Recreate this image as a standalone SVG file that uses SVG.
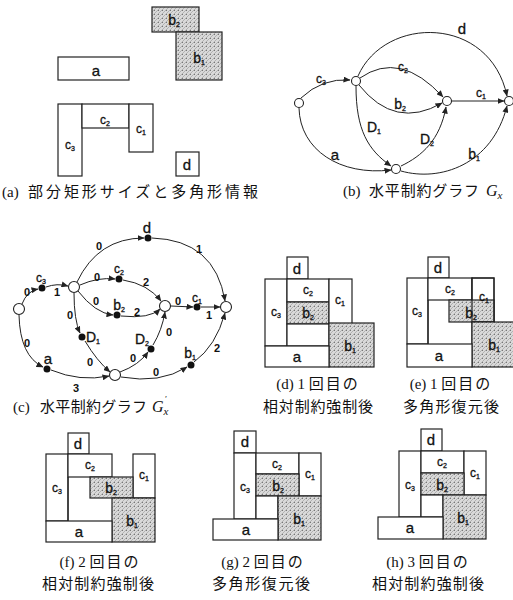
<svg xmlns="http://www.w3.org/2000/svg" width="513" height="600" viewBox="0 0 513 600">
<defs>
<pattern id="hatch" width="4" height="4" patternUnits="userSpaceOnUse">
<rect width="4" height="4" fill="#d9d9d9"/>
<path d="M0,4 L4,0 M-1,1 L1,-1 M3,5 L5,3" stroke="#959595" stroke-width="0.6"/>
<rect x="2" y="2" width="1" height="1" fill="#777"/>
</pattern>
<marker id="ar" markerWidth="7" markerHeight="6" refX="6.5" refY="3" orient="auto" markerUnits="userSpaceOnUse">
<path d="M0,0 L7,3 L0,6 z" fill="#222"/>
</marker>
<style>
.box{fill:#fff;stroke:#222;stroke-width:1.2}
.sh{fill:url(#hatch);stroke:#222;stroke-width:1.2}
.ln{fill:none;stroke:#222;stroke-width:1.2}
.l{font-family:"Liberation Sans",Arial,sans-serif;fill:#111;stroke:#111;stroke-width:0.3;text-anchor:middle}
.big{font-size:15px}
.mid{font-size:14px}
.sm{font-size:12px}
.sub{font-size:7px}
.num{font-family:"Liberation Sans",Arial,sans-serif;font-size:11px;font-weight:bold;fill:#111;text-anchor:middle}
.cap{font-family:"Liberation Serif","Noto Sans CJK JP",serif;font-size:15px;fill:#111}
.capm{font-family:"Liberation Serif","Noto Sans CJK JP",serif;font-size:15px;fill:#111;text-anchor:middle}
.it{font-family:"Liberation Serif",serif;font-style:italic;font-size:16px;fill:#111}
.edge{fill:none;stroke:#222;stroke-width:1;marker-end:url(#ar)}
.node{fill:#fff;stroke:#222;stroke-width:1.1}
.dot{fill:#111}
</style>
</defs>
<rect width="513" height="600" fill="#fff"/>

<!-- (a) -->
<g id="panel-a">
<g id="a-b2"><rect class="sh" x="152" y="7" width="47" height="25"/><text class="l mid" x="174" y="25">b<tspan class="sub" dy="2">2</tspan></text></g>
<g id="a-b1"><rect class="sh" x="176" y="32" width="46" height="48"/><text class="l mid" x="199" y="63">b<tspan class="sub" dy="2">1</tspan></text></g>
<g id="a-a"><rect class="box" x="58" y="57" width="71" height="23"/><text class="l big" x="96" y="76">a</text></g>
<g id="a-c3"><rect class="box" x="58" y="104" width="24" height="72"/><text class="l sm" x="70" y="149">c<tspan class="sub" dy="2">3</tspan></text></g>
<g id="a-c2"><rect class="box" x="82" y="104" width="47" height="24"/><text class="l sm" x="105" y="124">c<tspan class="sub" dy="2">2</tspan></text></g>
<g id="a-c1"><rect class="box" x="129" y="104" width="24" height="48"/><text class="l sm" x="141" y="133">c<tspan class="sub" dy="2">1</tspan></text></g>
<g id="a-d"><rect class="box" x="176" y="152" width="23" height="24"/><text class="l big" x="187" y="170">d</text></g>
<text class="cap" x="2" y="197">(a)</text>
<text class="cap" x="28" y="197" textLength="230" lengthAdjust="spacing">部分矩形サイズと多角形情報</text>
</g>

<!-- (b) graph -->
<g id="graph-b">
<g id="b-connectors">
<path class="edge" d="M301,98 Q322,78 350,80"/>
<path class="edge" d="M358,76 C385,15 490,15 507,96"/>
<path class="edge" d="M360,78 Q400,50 443,97"/>
<path class="edge" d="M359,85 Q395,130 442,103"/>
<path class="edge" d="M452,101 L504,101"/>
<path class="edge" d="M356,86 C356,130 368,150 391,166"/>
<path class="edge" d="M401,166 C422,156 440,140 446,107"/>
<path class="edge" d="M299,108 C300,150 340,176 391,170"/>
<path class="edge" d="M401,171 C440,182 492,165 507,106"/>
</g>
<g id="b-L"><circle class="node" cx="299" cy="103" r="4.5"/></g>
<g id="b-A"><circle class="node" cx="356" cy="81" r="4.5"/></g>
<g id="b-M"><circle class="node" cx="447" cy="101" r="4.5"/></g>
<g id="b-R"><circle class="node" cx="509" cy="101" r="4.5"/></g>
<g id="b-B"><circle class="node" cx="396" cy="169" r="4.5"/></g>
<g id="b-labels">
<text class="l sm" x="321" y="83">c<tspan class="sub" dy="2">3</tspan></text>
<text class="l big" x="462" y="34">d</text>
<text class="l sm" x="403" y="71">c<tspan class="sub" dy="2">2</tspan></text>
<text class="l mid" x="400" y="109">b<tspan class="sub" dy="2">2</tspan></text>
<text class="l sm" x="481" y="97">c<tspan class="sub" dy="2">1</tspan></text>
<text class="l mid" x="374" y="132">D<tspan class="sub" dy="2">1</tspan></text>
<text class="l mid" x="427" y="144">D<tspan class="sub" dy="2">2</tspan></text>
<text class="l big" x="335" y="160">a</text>
<text class="l mid" x="474" y="159">b<tspan class="sub" dy="2">1</tspan></text>
</g>
<text class="cap" x="343" y="196">(b)</text>
<text class="cap" x="369" y="196" textLength="110" lengthAdjust="spacing">水平制約グラフ</text>
<text class="it" x="486" y="196">G<tspan font-size="11" dy="3">x</tspan></text>
</g>

<!-- (c) graph -->
<g id="graph-c">
<g id="c-connectors">
<path class="edge" d="M22,304 Q27,291 38,289"/>
<path class="edge" d="M46,287 Q57,283 68,286"/>
<path class="edge" d="M77,282 Q98,238 144,238"/>
<path class="edge" d="M152,238 Q215,240 225,301"/>
<path class="edge" d="M80,285 Q98,277 115,279"/>
<path class="edge" d="M123,280 Q148,284 161,301"/>
<path class="edge" d="M78,291 Q95,313 113,315"/>
<path class="edge" d="M121,316 Q150,319 160,309"/>
<path class="edge" d="M171,306 L193,307"/>
<path class="edge" d="M201,307 L220,307"/>
<path class="edge" d="M74,293 Q74,320 80,333"/>
<path class="edge" d="M85,341 Q97,361 110,372"/>
<path class="edge" d="M19,315 Q20,356 43,367"/>
<path class="edge" d="M51,370 Q80,382 109,376"/>
<path class="edge" d="M120,372 Q139,365 148,352"/>
<path class="edge" d="M153,345 Q162,330 165,312"/>
<path class="edge" d="M121,377 Q160,384 187,367"/>
<path class="edge" d="M194,362 Q216,346 225,313"/>
</g>
<g id="c-L"><circle class="node" cx="19" cy="309" r="5.5"/></g>
<g id="c-A"><circle class="node" cx="74" cy="287" r="5.5"/></g>
<g id="c-M"><circle class="node" cx="165" cy="306" r="5.5"/></g>
<g id="c-R"><circle class="node" cx="226" cy="307" r="5.5"/></g>
<g id="c-B"><circle class="node" cx="115" cy="375" r="5.5"/></g>
<g id="c-c3"><circle class="dot" cx="42" cy="288" r="3.5"/><text class="l sm" x="41" y="282">c<tspan class="sub" dy="2">3</tspan></text></g>
<g id="c-d"><circle class="dot" cx="148" cy="238" r="3.5"/><text class="l big" x="147" y="233">d</text></g>
<g id="c-c2"><circle class="dot" cx="119" cy="279" r="3.5"/><text class="l sm" x="119" y="273">c<tspan class="sub" dy="2">2</tspan></text></g>
<g id="c-b2"><circle class="dot" cx="117" cy="315" r="3.5"/><text class="l mid" x="119" y="310">b<tspan class="sub" dy="2">2</tspan></text></g>
<g id="c-c1"><circle class="dot" cx="197" cy="307" r="3.5"/><text class="l sm" x="197" y="302">c<tspan class="sub" dy="2">1</tspan></text></g>
<g id="c-D1"><circle class="dot" cx="82" cy="337" r="3.5"/><text class="l mid" x="93" y="342">D<tspan class="sub" dy="2">1</tspan></text></g>
<g id="c-D2"><circle class="dot" cx="151" cy="349" r="3.5"/><text class="l mid" x="142" y="344">D<tspan class="sub" dy="2">2</tspan></text></g>
<g id="c-a"><circle class="dot" cx="47" cy="369" r="3.5"/><text class="l big" x="48" y="364">a</text></g>
<g id="c-b1"><circle class="dot" cx="191" cy="365" r="3.5"/><text class="l mid" x="190" y="358">b<tspan class="sub" dy="2">1</tspan></text></g>
<g id="c-weights">
<text class="num" x="27" y="296">0</text>
<text class="num" x="57" y="296">1</text>
<text class="num" x="99" y="250">0</text>
<text class="num" x="199" y="253">1</text>
<text class="num" x="97" y="281">0</text>
<text class="num" x="146" y="286">2</text>
<text class="num" x="96" y="305">0</text>
<text class="num" x="137" y="316">2</text>
<text class="num" x="178" y="305">0</text>
<text class="num" x="209" y="319">1</text>
<text class="num" x="70" y="319">0</text>
<text class="num" x="90" y="366">0</text>
<text class="num" x="27" y="347">0</text>
<text class="num" x="76" y="392">3</text>
<text class="num" x="133" y="362">0</text>
<text class="num" x="169" y="336">0</text>
<text class="num" x="156" y="376">0</text>
<text class="num" x="217" y="352">2</text>
</g>
<text class="cap" x="13" y="412">(c)</text>
<text class="cap" x="40" y="412" textLength="107" lengthAdjust="spacing">水平制約グラフ</text>
<text class="it" x="152" y="412">G<tspan font-size="9" dx="1" dy="-10">′</tspan><tspan font-size="11" dx="-3" dy="13">x</tspan></text>
</g>

<!-- (d) -->
<g id="panel-d">
<g id="d-d"><rect class="box" x="287" y="257" width="21" height="22"/><text class="l big" x="297" y="274">d</text></g>
<g id="d-c3"><rect class="box" x="265" y="279" width="22" height="67"/><text class="l sm" x="276" y="316">c<tspan class="sub" dy="2">3</tspan></text></g>
<g id="d-c2"><rect class="box" x="287" y="279" width="42" height="23"/><text class="l sm" x="308" y="294">c<tspan class="sub" dy="2">2</tspan></text></g>
<g id="d-b2"><rect class="sh" x="287" y="302" width="42" height="22"/><text class="l mid" x="308" y="318">b<tspan class="sub" dy="2">2</tspan></text></g>
<rect class="box" x="287" y="324" width="42" height="22"/>
<g id="d-c1"><rect class="box" x="329" y="279" width="23" height="45"/><text class="l sm" x="340" y="304">c<tspan class="sub" dy="2">1</tspan></text></g>
<g id="d-b1"><rect class="sh" x="329" y="323" width="45" height="44"/><text class="l mid" x="350" y="351">b<tspan class="sub" dy="2">1</tspan></text></g>
<g id="d-a"><rect class="box" x="265" y="346" width="64" height="21"/><text class="l big" x="297" y="362">a</text></g>
<text class="capm" x="318" y="389">(d) 1 <tspan letter-spacing="2">回目の</tspan></text>
<text class="capm" x="318" y="412" textLength="110" lengthAdjust="spacing">相対制約強制後</text>
</g>

<!-- (e) -->
<g id="panel-e">
<g id="e-d"><rect class="box" x="428" y="257" width="21" height="21"/><text class="l big" x="438" y="273">d</text></g>
<g id="e-c3"><rect class="box" x="407" y="278" width="21" height="66"/><text class="l sm" x="417" y="315">c<tspan class="sub" dy="2">3</tspan></text></g>
<g id="e-c2"><rect class="box" x="428" y="278" width="44" height="22"/><text class="l sm" x="450" y="293">c<tspan class="sub" dy="2">2</tspan></text></g>
<g id="e-c1"><rect class="box" x="472" y="278" width="22" height="44"/></g>
<g id="e-b2"><rect class="sh" x="449" y="300" width="45" height="22"/><rect class="ln" x="472" y="278" width="22" height="44"/><text class="l sm" x="484" y="301">c<tspan class="sub" dy="2">1</tspan></text><text class="l mid" x="471" y="318">b<tspan class="sub" dy="2">2</tspan></text></g>
<path class="ln" d="M428,300 L428,344 M472,322 L472,344"/>
<g id="e-b1"><rect class="sh" x="472" y="322" width="45" height="45"/><text class="l mid" x="494" y="350">b<tspan class="sub" dy="2">1</tspan></text></g>
<g id="e-a"><rect class="box" x="407" y="344" width="65" height="23"/><text class="l big" x="439" y="361">a</text></g>
<text class="capm" x="451" y="389">(e) 1 <tspan letter-spacing="2">回目の</tspan></text>
<text class="capm" x="451" y="412" textLength="96" lengthAdjust="spacing">多角形復元後</text>
</g>

<!-- (f) -->
<g id="panel-f">
<g id="f-d"><rect class="box" x="68" y="433" width="21" height="21"/><text class="l big" x="78" y="449">d</text></g>
<g id="f-c3"><rect class="box" x="46" y="454" width="22" height="67"/><text class="l sm" x="57" y="492">c<tspan class="sub" dy="2">3</tspan></text></g>
<g id="f-c2"><rect class="box" x="68" y="454" width="44" height="23"/><text class="l sm" x="90" y="469">c<tspan class="sub" dy="2">2</tspan></text></g>
<g id="f-c1"><rect class="box" x="133" y="454" width="22" height="44"/><text class="l sm" x="144" y="479">c<tspan class="sub" dy="2">1</tspan></text></g>
<g id="f-b2"><rect class="sh" x="90" y="477" width="43" height="21"/><text class="l mid" x="111" y="493">b<tspan class="sub" dy="2">2</tspan></text></g>
<g id="f-b1"><rect class="sh" x="112" y="498" width="43" height="44"/><text class="l mid" x="132" y="526">b<tspan class="sub" dy="2">1</tspan></text></g>
<g id="f-a"><rect class="box" x="46" y="521" width="66" height="21"/><text class="l big" x="79" y="537">a</text></g>
<path class="ln" d="M68,477 L68,521"/>
<text class="capm" x="100" y="567">(f) 2 <tspan letter-spacing="2">回目の</tspan></text>
<text class="capm" x="98" y="589" textLength="112" lengthAdjust="spacing">相対制約強制後</text>
</g>

<!-- (g) -->
<g id="panel-g">
<g id="g-d"><rect class="box" x="234" y="431" width="22" height="22"/><text class="l big" x="245" y="447">d</text></g>
<g id="g-c3"><rect class="box" x="234" y="453" width="22" height="66"/><text class="l sm" x="245" y="491">c<tspan class="sub" dy="2">3</tspan></text></g>
<g id="g-c2"><rect class="box" x="256" y="453" width="43" height="21"/><text class="l sm" x="277" y="468">c<tspan class="sub" dy="2">2</tspan></text></g>
<g id="g-c1"><rect class="box" x="299" y="453" width="22" height="43"/><text class="l sm" x="310" y="478">c<tspan class="sub" dy="2">1</tspan></text></g>
<g id="g-b2"><rect class="sh" x="256" y="474" width="43" height="22"/><text class="l mid" x="278" y="491">b<tspan class="sub" dy="2">2</tspan></text></g>
<rect class="box" x="256" y="496" width="22" height="23"/>
<g id="g-b1"><rect class="sh" x="278" y="496" width="43" height="44"/><text class="l mid" x="299" y="524">b<tspan class="sub" dy="2">1</tspan></text></g>
<g id="g-a"><rect class="box" x="213" y="519" width="65" height="21"/><text class="l big" x="246" y="535">a</text></g>
<text class="capm" x="263" y="567">(g) 2 <tspan letter-spacing="2">回目の</tspan></text>
<text class="capm" x="261" y="589" textLength="98" lengthAdjust="spacing">多角形復元後</text>
</g>

<!-- (h) -->
<g id="panel-h">
<g id="h-d"><rect class="box" x="421" y="429" width="21" height="22"/><text class="l big" x="431" y="445">d</text></g>
<g id="h-c3"><rect class="box" x="399" y="451" width="22" height="66"/><text class="l sm" x="410" y="489">c<tspan class="sub" dy="2">3</tspan></text></g>
<g id="h-c2"><rect class="box" x="421" y="451" width="43" height="22"/><text class="l sm" x="442" y="466">c<tspan class="sub" dy="2">2</tspan></text></g>
<g id="h-c1"><rect class="box" x="464" y="451" width="22" height="44"/><text class="l sm" x="475" y="477">c<tspan class="sub" dy="2">1</tspan></text></g>
<g id="h-b2"><rect class="sh" x="421" y="473" width="43" height="22"/><text class="l mid" x="442" y="490">b<tspan class="sub" dy="2">2</tspan></text></g>
<rect class="box" x="421" y="495" width="22" height="22"/>
<g id="h-b1"><rect class="sh" x="443" y="495" width="43" height="44"/><text class="l mid" x="463" y="523">b<tspan class="sub" dy="2">1</tspan></text></g>
<g id="h-a"><rect class="box" x="378" y="517" width="65" height="22"/><text class="l big" x="410" y="533">a</text></g>
<text class="capm" x="428" y="567">(h) 3 <tspan letter-spacing="2">回目の</tspan></text>
<text class="capm" x="428" y="589" textLength="112" lengthAdjust="spacing">相対制約強制後</text>
</g>
</svg>
